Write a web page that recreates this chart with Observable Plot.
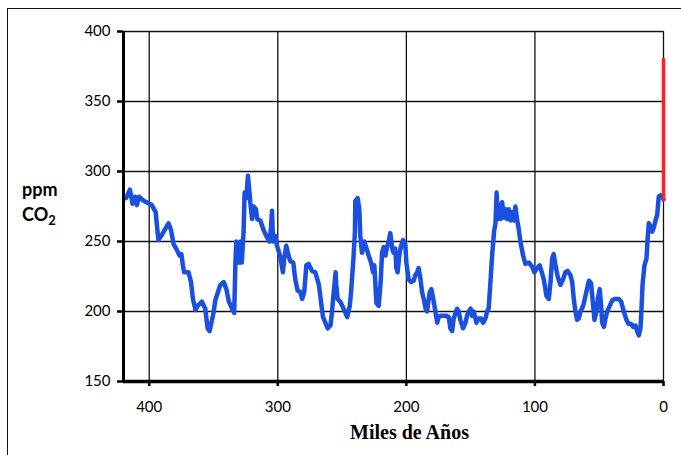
<!DOCTYPE html>
<html><head><meta charset="utf-8">
<script src="https://cdn.jsdelivr.net/npm/d3@7"></script>
<script src="https://cdn.jsdelivr.net/npm/@observablehq/plot@0.6"></script>
<style>
body{margin:0;background:#fff;}
#wrap{position:relative;width:681px;height:455px;overflow:hidden;background:#fff;}
#frame{position:absolute;left:7px;top:8px;width:700px;height:500px;border-left:1.5px solid #111;border-top:1.5px solid #111;}
#chart{position:absolute;left:0;top:0;}
.ylab{position:absolute;left:22px;font:bold 18px Lato, sans-serif;color:#000;line-height:1;}
.ylab sub{font-size:13px;vertical-align:-4px;}
</style></head><body>
<div id="wrap"><div id="frame"></div><div id="chart"></div>
<div class="ylab" style="top:180px">ppm</div>
<div class="ylab" style="top:205px">CO<sub>2</sub></div>
</div>
<script>
// Vostok ice-core CO2 (thousands of years before present, ppm)
const ageKyr = [418,415,413,411,409.6,408,404,398,395,393.5,392.8,390,387.5,385,383,381,378.5,376.4,375,373.8,372.8,369.4,367.5,366,364,362.4,359,356.4,354.6,353,350,348.6,344.7,342,340,338,335.6,333.9,333,332.3,330.5,329,328,326.6,325.8,324.5,323.2,322,321.4,320,318.8,317,316,313.6,311,308.4,306.4,305.3,304.5,303.7,302,300.6,298,296,295,293.4,291.6,290.3,288,286.4,284.6,282.5,281,279.4,277.8,276,273.4,270.8,268,266.4,264.8,263,261.2,259,257.8,257,255,254.5,253.5,251.4,248.8,246,244,243,241,240,239.7,237.9,236.6,235.8,234.5,232.7,231,229.3,227.5,225.9,224.9,223.3,221.5,220,218.9,217.7,216.3,215,213.8,212.5,211,210,208.6,207.8,206.8,205.2,204,202.6,200.8,200,198.2,196.3,194.3,193,191.7,190.4,189,187.8,186.5,185,183.9,181.8,180.5,178.7,177.4,176,174.8,173.5,169.6,167,165.8,164.4,163.2,160.6,159.3,158,155.9,154,152.8,151.5,150,149,147.6,145.5,143.7,141.9,140.3,138.5,137.2,136,134.6,133.3,131.8,130.7,129.8,128.9,128,126.8,125.5,124.2,123,121.6,120.4,119,117.8,116.4,115.2,113.8,112.6,111.3,109.2,107.4,104.8,102.2,100.4,98.3,96.3,95,93.1,91,89.2,87.9,86.6,85.4,84,82.3,80.2,78.1,76.3,74.5,72.4,71,69.8,68.5,67.2,65.9,64.6,62.5,60.7,58.8,58,56.3,54.7,53.7,52.1,51.1,49.6,48.5,47.7,46.4,45.1,43.8,41.8,39.9,37.4,34.8,32.9,30.9,28.8,27,25.1,23.6,21.8,20.5,19.2,17.9,17.1,16.3,14.8,13.2,12.2,11.4,10.1,8.8,7.5,6.2,4.9,3.7,2.3,1,0];
const co2Ppm = [281,287,277,282,276,282,279,276,271,257,251,255,259,263,258,248,244,240,241,233,228,228,221,209,201,204,207,202,188,186,199,208,219,221,216,207,202,199,233,250,235,250,235,257,285,281,297,285,278,266,275,273,266,265,258,253,250,260,272,250,254,247,239,228,238,247,240,236,235,223,215,214,209,214,233,234,229,228,219,207,196,192,188,190,200,209,228,219,209,207,202,196,204,214,240,257,279,281,273,254,242,250,245,240,235,228,233,206,204,221,242,246,240,246,250,256,245,242,245,231,228,242,247,251,248,235,223,221,222,226,228,231,223,214,209,202,200,214,216,207,200,192,196,197,197,196,188,186,195,202,200,194,188,192,197,200,202,197,200,192,195,195,192,195,200,202,221,240,257,263,285,266,276,266,278,267,273,266,273,265,271,265,275,265,259,250,240,234,235,232,228,231,233,229,223,211,209,221,238,241,233,225,219,223,228,229,226,221,209,200,194,195,200,204,211,219,222,220,204,194,200,209,216,204,192,189,195,200,204,208,209,209,207,200,194,191,191,189,190,186,183,188,202,219,233,238,254,263,261,257,260,265,269,282,283,282,280];
// Modern measured rise
const modernAge = [0, 0];
const modernPpm = [280, 380];
// Axis ticks
const xTicks = [400, 300, 200, 100, 0];
const yTicks = [150, 200, 250, 300, 350, 400];
const yGrid = [200, 250, 300, 350, 400];

const series = ageKyr.map((a, i) => ({age: a, ppm: co2Ppm[i]}));
const modern = modernAge.map((a, i) => ({age: a, ppm: modernPpm[i]}));

const chart = Plot.plot({
  width: 681, height: 455,
  marginLeft: 123, marginRight: 18, marginTop: 31, marginBottom: 74,
  style: {fontFamily: "Lato, sans-serif", fontSize: "15px", color: "#000", background: "transparent"},
  x: {domain: [420, 0]},
  y: {domain: [150, 400]},
  marks: [
    Plot.ruleY(yGrid, {stroke: "#111", strokeWidth: 1.3}),
    Plot.ruleX(xTicks, {stroke: "#111", strokeWidth: 1.3}),
    Plot.line(series, {x: "age", y: "ppm", stroke: "#1a4fe0", strokeWidth: 4.5, strokeLinejoin: "round", strokeLinecap: "round"}),
    Plot.line(modern, {x: "age", y: "ppm", stroke: "#ff2020", strokeWidth: 3.5}),
    Plot.ruleX([420], {stroke: "#000", strokeWidth: 3}),
    Plot.ruleY([150], {stroke: "#000", strokeWidth: 3.5}),
    Plot.axisY({ticks: yTicks, tickSize: 6, tickPadding: 7, strokeWidth: 2.5, label: null, fontSize: 15}),
    Plot.axisX({ticks: xTicks, tickSize: 5, tickPadding: 15, strokeWidth: 2.5, label: null, fontSize: 15}),
    Plot.text(["Miles de Años"], {frameAnchor: "bottom", dy: 57, dx: 16, text: d => d, fontFamily: "'Liberation Serif', serif", fontWeight: "bold", fontSize: 20})
  ]
});
document.getElementById("chart").appendChild(chart);
</script>
</body></html>
